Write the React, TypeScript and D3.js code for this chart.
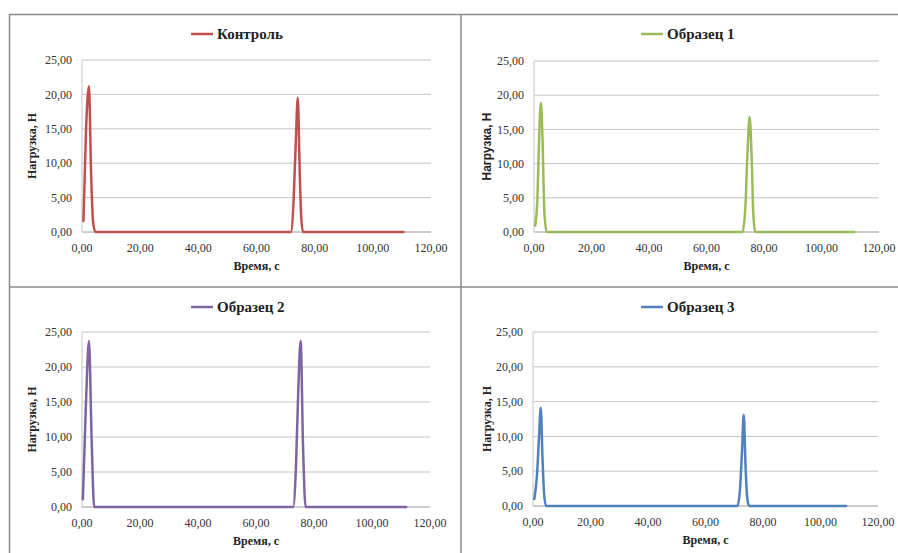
import * as d3 from 'd3';

const controlTime = [0.5, 1.4, 2.4, 3.1, 3.8, 4.6, 71.8, 72.8, 73.5, 74.2, 74.9, 75.4, 76.0, 110.5];
const controlLoad = [1.6, 15.0, 21.2, 9.0, 1.5, 0, 0, 5.0, 13.0, 19.5, 8.0, 2.0, 0, 0];

const sample1Time = [0.4, 1.2, 1.8, 2.4, 3.0, 3.6, 4.4, 72.5, 73.5, 74.3, 75.0, 75.7, 76.3, 77.0, 111.4];
const sample1Load = [0.9, 5.0, 14.0, 18.9, 13.0, 3.0, 0, 0, 3.5, 12.0, 16.8, 11.0, 2.5, 0, 0];

const sample2Time = [0.3, 1.3, 2.4, 3.3, 4.2, 72.8, 73.8, 74.6, 75.4, 76.2, 77.1, 111.8];
const sample2Load = [1.1, 14.0, 23.7, 10.0, 0, 0, 6.0, 17.0, 23.7, 9.0, 0, 0];

const sample3Time = [0.45, 1.4, 2.1, 2.7, 3.3, 3.9, 4.6, 71.1, 72.1, 72.7, 73.3, 73.9, 74.5, 75.2, 108.9];
const sample3Load = [1.0, 4.5, 10.0, 14.1, 7.0, 1.5, 0, 0, 3.0, 8.0, 13.1, 6.0, 1.2, 0, 0];

const seriesNames = ['Контроль', 'Образец 1', 'Образец 2', 'Образец 3'];
const xTicks = [0, 20, 40, 60, 80, 100, 120];
const yTicks = [0, 5, 10, 15, 20, 25];

const colors = ['#C0504D', '#9BBB59', '#8064A2', '#4F81BD'];
const serif = "'Liberation Serif', 'DejaVu Serif', serif";
const sans = "'Liberation Sans', Arial, sans-serif";

const fmt = (v: number) => v.toFixed(2).replace('.', ',');

type PanelProps = {
  name: string;
  time: number[];
  load: number[];
  color: string;
  x0: number; x1: number; y0: number; y1: number;
  titleY: number;
  legendX: number;
  yTitleX: number;
  yTitleFont: string;
};

const Panel = ({ name, time, load, color, x0, x1, y0, y1, titleY, legendX, yTitleX, yTitleFont }: PanelProps) => {
  const x = d3.scaleLinear().domain([0, 120]).range([x0, x1]);
  const y = d3.scaleLinear().domain([0, 25]).range([y1, y0]);
  const pts = time.map((t, i) => [t, load[i]] as [number, number]);
  const line = d3.line<[number, number]>()
    .x(d => x(d[0]))
    .y(d => y(d[1]))
    .curve(d3.curveMonotoneX);

  return (
    <g>
      {/* gridlines */}
      {yTicks.map(t => (
        <line key={'g' + t} x1={x0} x2={x1} y1={y(t)} y2={y(t)}
          stroke={t === 0 ? '#9a9a9a' : '#c4c4c4'} strokeWidth={1} />
      ))}
      <line x1={x0} x2={x0} y1={y0} y2={y1} stroke="#c4c4c4" strokeWidth={1} />

      {/* tick labels */}
      {yTicks.map(t => (
        <text key={'y' + t} x={x0 - 10} y={y(t)} dy="0.35em" textAnchor="end"
          style={{ fontFamily: serif, fontSize: 12 }} fill="#333">{fmt(t)}</text>
      ))}
      {xTicks.map(t => (
        <text key={'x' + t} x={x(t)} y={y1 + 20} textAnchor="middle"
          style={{ fontFamily: serif, fontSize: 12 }} fill="#333">{fmt(t)}</text>
      ))}

      {/* axis titles */}
      <text transform={`translate(${yTitleX},${(y0 + y1) / 2}) rotate(-90)`} textAnchor="middle"
        dy="0.35em" style={{ fontFamily: yTitleFont, fontWeight: 'bold', fontSize: 12 }} fill="#222">Нагрузка, Н</text>
      <text x={(x0 + x1) / 2} y={y1 + 38} textAnchor="middle"
        style={{ fontFamily: serif, fontWeight: 'bold', fontSize: 12 }} fill="#222">Время, с</text>

      {/* legend */}
      <line x1={legendX} x2={legendX + 22} y1={titleY} y2={titleY} stroke={color} strokeWidth={2.5} />
      <text x={legendX + 26} y={titleY} dy="0.35em"
        style={{ fontFamily: serif, fontWeight: 'bold', fontSize: 15 }} fill="#222">{name}</text>

      {/* series */}
      <path d={line(pts) ?? ''} fill="none" stroke={color} strokeWidth={2.5}
        strokeLinejoin="round" strokeLinecap="round" />
    </g>
  );
};

export default function App() {
  return (
    <div style={{ position: 'absolute', left: 0, top: 0 }}>
      <svg width={898} height={553} style={{ display: 'block', background: '#fff' }}>
        {/* frames of the four charts */}
        <g stroke="#8a8a8a" strokeWidth={1.5} fill="none">
          <line x1={9} x2={898} y1={14.5} y2={14.5} />
          <line x1={9.5} x2={9.5} y1={14} y2={553} />
          <line x1={461} x2={461} y1={14} y2={553} />
          <line x1={9} x2={898} y1={287} y2={287} />
        </g>
        <Panel name={seriesNames[0]} time={controlTime} load={controlLoad} color={colors[0]}
          x0={82} x1={431} y0={60} y1={232} titleY={34} legendX={191} yTitleX={32} yTitleFont={serif} />
        <Panel name={seriesNames[1]} time={sample1Time} load={sample1Load} color={colors[1]}
          x0={534} x1={879} y0={61} y1={232} titleY={34} legendX={641} yTitleX={487} yTitleFont={sans} />
        <Panel name={seriesNames[2]} time={sample2Time} load={sample2Load} color={colors[2]}
          x0={82} x1={430} y0={332} y1={507} titleY={307} legendX={191} yTitleX={32} yTitleFont={serif} />
        <Panel name={seriesNames[3]} time={sample3Time} load={sample3Load} color={colors[3]}
          x0={533} x1={878} y0={332} y1={506} titleY={307} legendX={641} yTitleX={487} yTitleFont={serif} />
      </svg>
    </div>
  );
}
